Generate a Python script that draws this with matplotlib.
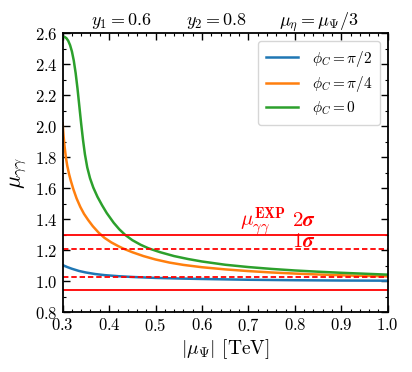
import matplotlib
matplotlib.use("Agg")
import matplotlib.pyplot as plt
from matplotlib.ticker import MultipleLocator, AutoMinorLocator

plt.rcParams['font.family'] = 'serif'
plt.rcParams['font.serif'] = ['cmr10']
plt.rcParams['mathtext.fontset'] = 'cm'
plt.rcParams['axes.formatter.use_mathtext'] = True

# ---- data ----
x_green = [0.300, 0.304, 0.308, 0.312, 0.316, 0.320, 0.324, 0.328, 0.332, 0.336,
           0.340, 0.344, 0.348, 0.353, 0.359, 0.366, 0.375, 0.385, 0.395, 0.410,
           0.422, 0.435, 0.450, 0.468, 0.485, 0.510, 0.540, 0.570, 0.600, 0.650,
           0.700, 0.750, 0.800, 0.850, 0.900, 0.950, 1.000]
y_green = [2.580, 2.578, 2.570, 2.553, 2.525, 2.484, 2.425, 2.345, 2.245, 2.130,
           2.015, 1.910, 1.820, 1.735, 1.665, 1.605, 1.545, 1.490, 1.440, 1.377,
           1.335, 1.298, 1.265, 1.235, 1.212, 1.187, 1.162, 1.143, 1.127, 1.106,
           1.091, 1.079, 1.069, 1.061, 1.054, 1.048, 1.042]

x_orange = [0.300, 0.302, 0.304, 0.307, 0.310, 0.314, 0.318, 0.323, 0.330, 0.338,
            0.346, 0.355, 0.365, 0.377, 0.390, 0.405, 0.420, 0.431, 0.450, 0.474,
            0.500, 0.530, 0.560, 0.600, 0.650, 0.700, 0.750, 0.800, 0.850, 0.900,
            0.950, 1.000]
y_orange = [2.020, 1.940, 1.875, 1.800, 1.745, 1.690, 1.645, 1.595, 1.535, 1.480,
            1.435, 1.395, 1.355, 1.315, 1.280, 1.250, 1.226, 1.210, 1.187, 1.162,
            1.140, 1.120, 1.105, 1.090, 1.076, 1.065, 1.056, 1.049, 1.043, 1.038,
            1.034, 1.031]

x_blue = [0.300, 0.310, 0.320, 0.335, 0.350, 0.370, 0.390, 0.420, 0.450, 0.500,
          0.550, 0.600, 0.700, 0.800, 0.900, 1.000]
y_blue = [1.104, 1.091, 1.080, 1.066, 1.056, 1.046, 1.039, 1.032, 1.027, 1.021,
          1.017, 1.014, 1.009, 1.006, 1.004, 1.003]

labels = [r'$\phi_C = \pi/2$', r'$\phi_C = \pi/4$', r'$\phi_C = 0$']

band_2sigma = [0.94, 1.30]
band_1sigma = [1.03, 1.21]

fig = plt.figure(figsize=(4.12, 3.72), dpi=100)
ax = fig.add_axes([0.152, 0.161, 0.789, 0.749])

ax.plot(x_blue, y_blue, color='#1f77b4', lw=1.8, label=labels[0])
ax.plot(x_orange, y_orange, color='#ff7f0e', lw=1.8, label=labels[1])
ax.plot(x_green, y_green, color='#2ca02c', lw=1.8, label=labels[2])

for v in band_2sigma:
    ax.axhline(v, color='red', lw=1.3, ls='-')
for v in band_1sigma:
    ax.axhline(v, color='red', lw=1.3, ls=(0, (3, 1.6)))

ax.text(0.681, 1.355, r'$\mu_{\gamma\gamma}^{\mathbf{EXP}}$', color='red', fontsize=15, va='baseline')
ax.text(0.795, 1.355, r'$\mathbf{2}\boldsymbol{\sigma}$', color='red', fontsize=15, va='baseline')
ax.text(0.793, 1.222, r'$\mathbf{1}\boldsymbol{\sigma}$', color='red', fontsize=15, va='baseline')

ax.text(0.1815, 1.03, r'$y_1 = 0.6$', transform=ax.transAxes, ha='center', va='baseline', fontsize=13)
ax.text(0.474, 1.03, r'$y_2 = 0.8$', transform=ax.transAxes, ha='center', va='baseline', fontsize=13)
ax.text(0.789, 1.03, r'$\mu_\eta = \mu_\Psi/3$', transform=ax.transAxes, ha='center', va='baseline', fontsize=13)

ax.set_xlim(0.3, 1.0)
ax.set_ylim(0.8, 2.6)
ax.xaxis.set_major_locator(MultipleLocator(0.1))
ax.xaxis.set_minor_locator(AutoMinorLocator(5))
ax.yaxis.set_major_locator(MultipleLocator(0.2))
ax.yaxis.set_minor_locator(AutoMinorLocator(2))
ax.tick_params(which='both', direction='in', top=True, right=True, labelsize=12)
ax.tick_params(which='major', length=5, width=1)
ax.tick_params(which='minor', length=2.5, width=0.8)
for s in ax.spines.values():
    s.set_linewidth(1.3)

ax.set_xlabel(r'$|\mu_\Psi|$ [TeV]', fontsize=14, labelpad=2)
ax.set_ylabel(r'$\mu_{\gamma\gamma}$', fontsize=16, labelpad=4)

ax.legend(loc='upper right', fontsize=11, handlelength=2.1, labelspacing=0.35,
          borderpad=0.5, handletextpad=0.9)

fig.savefig('out.png', dpi=100)
